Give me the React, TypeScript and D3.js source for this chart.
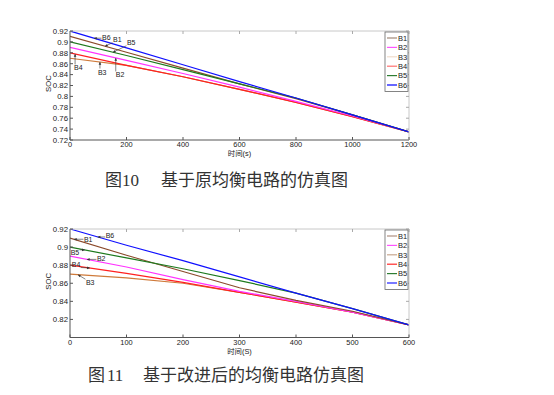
import * as d3 from 'd3';

// ---- data ----
const seriesNames = ['B1', 'B2', 'B3', 'B4', 'B5', 'B6'];

const fig10Times = [0, 200, 400, 600, 800, 1000, 1200];
const fig10B1 = [0.91, 0.881, 0.852, 0.823, 0.796, 0.766, 0.735];
const fig10B2 = [0.89, 0.866, 0.842, 0.817, 0.791, 0.764, 0.735];
const fig10B3 = [0.87, 0.857, 0.836, 0.813, 0.789, 0.763, 0.735];
const fig10B4 = [0.88, 0.857, 0.836, 0.813, 0.789, 0.763, 0.735];
const fig10B5 = [0.9, 0.875, 0.849, 0.823, 0.797, 0.766, 0.735];
const fig10B6 = [0.92, 0.889, 0.858, 0.827, 0.797, 0.766, 0.735];
const fig10XTicks = [0, 200, 400, 600, 800, 1000, 1200];
const fig10YTicks = [0.72, 0.74, 0.76, 0.78, 0.8, 0.82, 0.84, 0.86, 0.88, 0.9, 0.92];

const fig11Times = [0, 100, 200, 300, 400, 500, 600];
const fig11B1 = [0.91, 0.891, 0.873, 0.855, 0.841, 0.829, 0.814];
const fig11B2 = [0.89, 0.878, 0.864, 0.851, 0.84, 0.828, 0.814];
const fig11B3 = [0.87, 0.866, 0.86, 0.85, 0.839, 0.828, 0.814];
const fig11B4 = [0.88, 0.871, 0.861, 0.85, 0.839, 0.828, 0.814];
const fig11B5 = [0.9, 0.888, 0.876, 0.863, 0.849, 0.832, 0.814];
const fig11B6 = [0.92, 0.902, 0.885, 0.867, 0.849, 0.832, 0.814];
const fig11XTicks = [0, 100, 200, 300, 400, 500, 600];
const fig11YTicks = [0.82, 0.84, 0.86, 0.88, 0.9, 0.92];

// annotation: series, time of the arrow tip, label start offset from the tip
const fig10Notes = [
  { name: 'B6', t: 85, dx: 8, dy: -1 },
  { name: 'B1', t: 124, dx: 8, dy: -7 },
  { name: 'B5', t: 152, dx: 14, dy: -10 },
  { name: 'B4', t: 18, dx: -1, dy: 14 },
  { name: 'B3', t: 106, dx: -2, dy: 10 },
  { name: 'B2', t: 162, dx: 0, dy: 17 },
];
const fig11Notes = [
  { name: 'B6', t: 49, dx: 8, dy: -1 },
  { name: 'B1', t: 7, dx: 10, dy: 0 },
  { name: 'B5', t: 26, dx: -14, dy: 3 },
  { name: 'B2', t: 30, dx: 10, dy: -1 },
  { name: 'B4', t: 35, dx: -18, dy: -4 },
  { name: 'B3', t: 14, dx: 8, dy: 8 },
];

const lineColors = ['#8b4a2b', '#ff33ff', '#cf7a3a', '#ff2020', '#1e7a1e', '#1010ff'];
const legend10Colors = ['#a08878', '#ff55ff', '#f0dccc', '#ff7070', '#2e7d32', '#0000ff'];
const legend11Colors = ['#b09080', '#ff55ff', '#c8a890', '#ff2a2a', '#2e7d32', '#2020ff'];

const sans = 'Liberation Sans, Arial, sans-serif';
const fmt = (v: number) => String(+v.toFixed(2));

type Note = { name: string; t: number; dx: number; dy: number };

function Panel(props: {
  times: number[];
  values: number[][];
  xTicks: number[];
  yTicks: number[];
  yDomain: [number, number];
  box: { l: number; r: number; t: number; b: number };
  notes: Note[];
  legendColors: string[];
  xLabel: string;
}) {
  const { times, values, xTicks, yTicks, yDomain, box, notes, legendColors, xLabel } = props;
  const x = d3.scaleLinear().domain([times[0], times[times.length - 1]]).range([box.l, box.r]);
  const y = d3.scaleLinear().domain(yDomain).range([box.b, box.t]);
  const line = d3.line<number>().x((_, i) => x(times[i])).y((d) => y(d));
  const interp = (vals: number[], t: number) => {
    const i = Math.min(d3.bisectRight(times, t), times.length - 1);
    const t0 = times[i - 1], t1 = times[i];
    return vals[i - 1] + ((vals[i] - vals[i - 1]) * (t - t0)) / (t1 - t0);
  };
  const drawOrder = [2, 3, 1, 0, 4, 5];
  const legTop = box.t + 1;
  const legStep = 9.4;
  return (
    <g>
      <clipPath id={`c${box.t}`}>
        <rect x={box.l} y={box.t} width={box.r - box.l} height={box.b - box.t} />
      </clipPath>
      <g clipPath={`url(#c${box.t})`}>
        {drawOrder.map((k) => (
          <path key={k} d={line(values[k]) || ''} fill="none" stroke={lineColors[k]} strokeWidth={1.2} />
        ))}
      </g>
      {/* frame */}
      <line x1={box.l} x2={box.r} y1={box.t} y2={box.t} stroke="#c8c8c8" strokeWidth={1} />
      <line x1={box.r} x2={box.r} y1={box.t} y2={box.b} stroke="#c8c8c8" strokeWidth={1} />
      <line x1={box.l} x2={box.r} y1={box.b} y2={box.b} stroke="#555" strokeWidth={1} />
      <line x1={box.l} x2={box.l} y1={box.t} y2={box.b} stroke="#555" strokeWidth={1} />
      {xTicks.map((t) => (
        <g key={t}>
          <line x1={x(t)} x2={x(t)} y1={box.b} y2={box.b - 3} stroke="#555" />
          <line x1={x(t)} x2={x(t)} y1={box.t} y2={box.t + 3} stroke="#aaa" />
          <text x={x(t)} y={box.b + 7.3} fontSize={7.4} fontFamily={sans} textAnchor="middle" fill="#222">
            {t}
          </text>
        </g>
      ))}
      {yTicks.map((v) => (
        <g key={v}>
          <line x1={box.l} x2={box.l + 3} y1={y(v)} y2={y(v)} stroke="#555" />
          <line x1={box.r} x2={box.r - 3} y1={y(v)} y2={y(v)} stroke="#aaa" />
          <text x={box.l - 2} y={y(v) + 2.8} fontSize={7.8} fontFamily={sans} textAnchor="end" fill="#222">
            {fmt(v)}
          </text>
        </g>
      ))}
      <text
        transform={`translate(${box.l - 19},${(box.t + box.b) / 2 - 2}) rotate(-90)`}
        fontSize={7.8}
        fontFamily={sans}
        textAnchor="middle"
        fill="#222"
      >
        SOC
      </text>
      <text
        x={(box.l + box.r) / 2}
        y={box.b + 16}
        fontSize={7.4}
        fontFamily={`${sans}, Noto Sans CJK SC`}
        textAnchor="middle"
        fill="#222"
      >
        {xLabel}
      </text>
      {/* annotations */}
      {notes.map((n) => {
        const k = seriesNames.indexOf(n.name);
        const tx = x(n.t);
        const ty = y(interp(values[k], n.t));
        const lx = tx + n.dx;
        const ly = ty + n.dy;
        const w = 8.5;
        // arrow starts at the point of the label box closest to the tip
        const sx = Math.max(lx - 0.5, Math.min(lx + w + 0.5, tx));
        const sy = Math.max(ly - 3.5, Math.min(ly + 3.5, ty));
        const ang = Math.atan2(ty - sy, tx - sx);
        const a = 3;
        const p1 = [tx - a * Math.cos(ang - 0.45), ty - a * Math.sin(ang - 0.45)];
        const p2 = [tx - a * Math.cos(ang + 0.45), ty - a * Math.sin(ang + 0.45)];
        return (
          <g key={n.name}>
            <line x1={sx} y1={sy} x2={tx} y2={ty} stroke="#333" strokeWidth={0.6} />
            <path d={`M${tx},${ty}L${p1[0]},${p1[1]}L${p2[0]},${p2[1]}Z`} fill="#333" />
            <text x={lx} y={ly + 2.5} fontSize={7} fontFamily={sans} fill="#222">
              {n.name}
            </text>
          </g>
        );
      })}
      {/* legend */}
      <rect x={box.r - 24} y={legTop} width={23} height={legStep * 6 + 3} fill="#fff" stroke="#666" strokeWidth={0.8} />
      {seriesNames.map((nm, i) => (
        <g key={nm}>
          <line
            x1={box.r - 22}
            x2={box.r - 12}
            y1={legTop + 6 + i * legStep}
            y2={legTop + 6 + i * legStep}
            stroke={legendColors[i]}
            strokeWidth={1.2}
          />
          <text x={box.r - 11} y={legTop + 8.7 + i * legStep} fontSize={7.5} fontFamily={sans} fill="#222">
            {nm}
          </text>
        </g>
      ))}
    </g>
  );
}

export default function App() {
  const fig10Values = [fig10B1, fig10B2, fig10B3, fig10B4, fig10B5, fig10B6];
  const fig11Values = [fig11B1, fig11B2, fig11B3, fig11B4, fig11B5, fig11B6];
  const captionFont = 'Liberation Serif, Times New Roman, Noto Sans CJK SC, serif';
  return (
    <div style={{ position: 'absolute', left: 0, top: 0 }}>
      <svg width={554} height={395} style={{ display: 'block', background: '#fff' }}>
        <Panel
          times={fig10Times}
          values={fig10Values}
          xTicks={fig10XTicks}
          yTicks={fig10YTicks}
          yDomain={[0.72, 0.92]}
          box={{ l: 70, r: 409, t: 31, b: 140 }}
          notes={fig10Notes}
          legendColors={legend10Colors}
          xLabel="时间(s)"
        />
        <Panel
          times={fig11Times}
          values={fig11Values}
          xTicks={fig11XTicks}
          yTicks={fig11YTicks}
          yDomain={[0.8, 0.92]}
          box={{ l: 70, r: 409, t: 229, b: 337.5 }}
          notes={fig11Notes}
          legendColors={legend11Colors}
          xLabel="时间(S)"
        />
        <text x={105} y={186} fontSize={17} fontFamily={captionFont} fill="#333">
          图<tspan x={122}>10</tspan>
          <tspan x={161}>基于原均衡电路的仿真图</tspan>
        </text>
        <text x={88} y={381} fontSize={17} fontFamily={captionFont} fill="#333">
          图<tspan x={107}>11</tspan>
          <tspan x={143}>基于改进后的均衡电路仿真图</tspan>
        </text>
      </svg>
    </div>
  );
}
